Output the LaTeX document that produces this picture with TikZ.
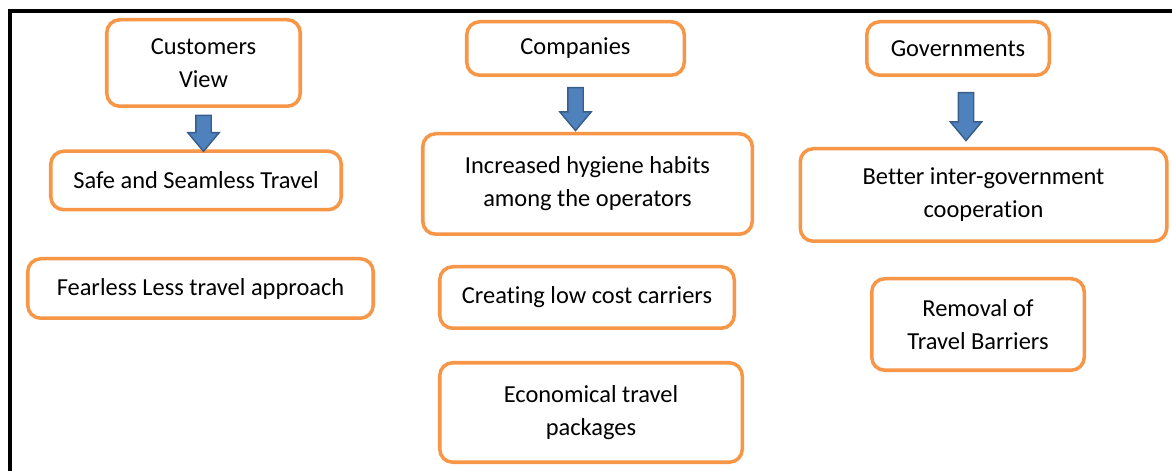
\documentclass[tikz,border=0pt]{standalone}
\usepackage{fontspec}
\setmainfont{Carlito}[Ligatures=NoCommon]
\usepackage{xcolor}
\usetikzlibrary{shapes.arrows}

\definecolor{boxorange}{HTML}{F79646}
\definecolor{arrowblue}{HTML}{4F81BD}
\definecolor{arrowedge}{HTML}{385D8A}

\begin{document}
\begin{tikzpicture}[
    font=\fontsize{13.9}{18.8}\selectfont,
    box/.style={draw=boxorange,line width=2pt,rounded corners=0.26cm,
        align=center,inner sep=0pt,text=black,fill=white},
    downarrow/.style={single arrow,draw=arrowedge,fill=arrowblue,line width=0.8pt,
        rotate=-90,inner sep=0.14cm,single arrow head extend=0.16cm,
        single arrow tip angle=80,minimum width=0pt},
    frame/.style={line width=0.08cm,black},
]
    \path[use as bounding box] (0,0) rectangle (23.44,9.42);
    \draw[frame] (0.19,0) -- (0.19,9.20) -- (23.44,9.20);

    % customers column
    \node[box,minimum width=3.87cm,minimum height=1.73cm] (cust) at (4.07,8.16) {Customers\\View};
    \node[box,minimum width=5.81cm,minimum height=1.17cm] (safe) at (3.92,5.81) {Safe and Seamless Travel};
    \node[box,minimum width=6.91cm,minimum height=1.19cm] (fear) at (4.01,3.65) {Fearless Less travel approach};

    % companies column
    \node[box,minimum width=4.35cm,minimum height=1.07cm] (comp) at (11.51,8.45) {Companies};
    \node[box,minimum width=6.59cm,minimum height=2.01cm] (hyg) at (11.75,5.74)
        {Increased hygiene habits\\among the operators};
    \node[box,minimum width=5.89cm,minimum height=1.23cm] (lowcost) at (11.74,3.47) {Creating low cost carriers};
    \node[box,minimum width=6.05cm,minimum height=1.99cm] (econ) at (11.82,1.17) {Economical travel\\packages};

    % governments column
    \node[box,minimum width=3.65cm,minimum height=1.07cm] (gov) at (19.16,8.45) {Governments};
    \node[box,minimum width=7.33cm,minimum height=1.85cm] (coop) at (19.67,5.52)
        {Better inter-government\\cooperation};
    \node[box,minimum width=4.25cm,minimum height=1.83cm] (barrier) at (19.56,2.93) {Removal of\\Travel Barriers};

    % block arrows
    \path (cust.south) -- node[downarrow,minimum height=0.72cm] (arr1) {} (cust.south |- safe.north);
    \path (comp.south) -- node[downarrow,minimum height=0.86cm] (arr2) {} (comp.south |- hyg.north);
    \path ([xshift=0.16cm]gov.south) -- node[downarrow,minimum height=0.96cm] (arr3) {}
        ([xshift=0.16cm]gov.south |- coop.north);
\end{tikzpicture}
\end{document}
